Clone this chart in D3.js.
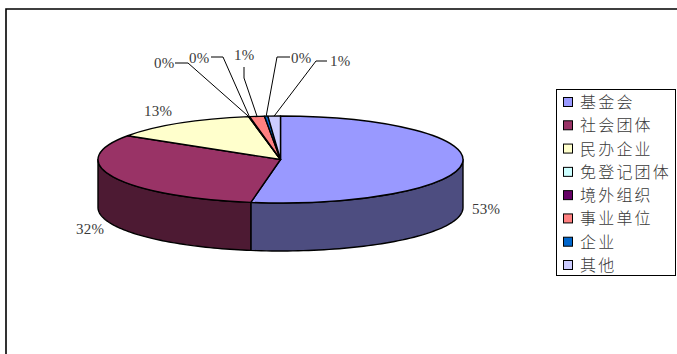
<!DOCTYPE html>
<html lang="zh">
<head>
<meta charset="utf-8">
<script src="https://cdn.jsdelivr.net/npm/d3@7/dist/d3.min.js"></script>
<style>
  html, body { margin: 0; padding: 0; background: #fff; overflow: hidden; }
  svg { display: block; }
  .pct { font-family: "Liberation Serif", serif; font-size: 15px; fill: #3a3a3a; letter-spacing: 0.3px; }
  .cat { font-family: "Noto Sans CJK SC", sans-serif; font-size: 16px; font-weight: 300; fill: #3a3a3a; letter-spacing: 2.2px; }
</style>
</head>
<body>
<svg id="chart" width="677" height="354"></svg>
<script>
// Share of organisations by type, in percent
const categories = ["基金会", "社会团体", "民办企业", "免登记团体", "境外组织", "事业单位", "企业", "其他"];
const shares = [52.6, 31.6, 13.0, 0.05, 0.05, 1.3, 0.3, 1.1];
const shareLabels = ["53%", "32%", "13%", "0%", "0%", "1%", "0%", "1%"];
const topColors = ["#9999FF", "#993366", "#FFFFCC", "#CCFFFF", "#660066", "#FF8080", "#0066CC", "#CCCCFF"];

// Label anchor and leader elbow per slice; slices without an elbow have no leader
const labelLayout = [
  { x: 472, y: 214 },
  { x: 76, y: 234 },
  { x: 144, y: 116 },
  { x: 154, y: 68, elbow: [[175, 63], [188, 63]] },
  { x: 189, y: 63, elbow: [[211, 57], [223, 57]] },
  { x: 234, y: 60, elbow: [[244, 67], [244, 78]] },
  { x: 291, y: 63, elbow: [[290, 57], [277, 57]] },
  { x: 330, y: 66, elbow: [[327, 61], [316, 61]] }
];

const W = 677, H = 354;
const cx = 280.5, cy = 159.5, rx = 182.5, ry = 43.5, depth = 48;

const svg = d3.select("#chart");

// Outer chart frame, open on the right and bottom
const frame = d3.path();
frame.moveTo(6, H);
frame.lineTo(6, 9);
frame.lineTo(W, 9);
svg.append("path").attr("d", frame.toString())
  .attr("fill", "none").attr("stroke", "#000").attr("stroke-width", 1.6);

const pie = d3.pie().sort(null).value(d => d);
const slices = pie(shares);

// Maps slice angles onto the tilted rim of the pie
const rimX = d3.scaleLinear().domain([-1, 1]).range([cx - rx, cx + rx]);
const rimY = d3.scaleLinear().domain([-1, 1]).range([cy - ry, cy + ry]);
const rimPoint = a => [rimX(Math.sin(a)), rimY(-Math.cos(a))];

// Side walls: only the part of the rim facing the viewer is visible
const wallLine = d3.line();
const front0 = Math.PI / 2, front1 = Math.PI * 1.5;
const walls = svg.append("g");
slices.forEach((s, i) => {
  const a0 = Math.max(s.startAngle, front0), a1 = Math.min(s.endAngle, front1);
  if (a1 <= a0) return;
  const rim = d3.range(0, 61).map(k => rimPoint(a0 + (a1 - a0) * k / 60));
  const lower = rim.map(p => [p[0], p[1] + depth]).reverse();
  walls.append("path")
    .attr("d", wallLine(rim.concat(lower)) + "Z")
    .attr("fill", d3.interpolateRgb(topColors[i], "#000")(0.5))
    .attr("stroke", "#000").attr("stroke-width", 1.4).attr("stroke-linejoin", "round");
});

// Top face: a circular arc squashed into the ellipse, keeping even stroke width
const arc = d3.arc().innerRadius(0).outerRadius(rx);
svg.append("g")
  .attr("transform", `translate(${cx},${cy}) scale(1,${ry / rx})`)
  .selectAll("path").data(slices).join("path")
  .attr("d", arc)
  .attr("fill", (d, i) => topColors[i])
  .attr("stroke", "#000").attr("stroke-width", 1.4)
  .attr("stroke-linejoin", "round")
  .attr("vector-effect", "non-scaling-stroke");

// Leader lines from the rim out to the small-slice labels
const leader = d3.line();
svg.append("g").selectAll("path")
  .data(slices.filter((s, i) => labelLayout[i].elbow))
  .join("path")
  .attr("d", s => {
    const mid = (s.startAngle + s.endAngle) / 2;
    return leader(labelLayout[s.index].elbow.concat([rimPoint(mid)]));
  })
  .attr("fill", "none").attr("stroke", "#000").attr("stroke-width", 1);

// Percentage labels
svg.append("g").selectAll("text").data(shareLabels).join("text")
  .attr("class", "pct")
  .attr("x", (d, i) => labelLayout[i].x)
  .attr("y", (d, i) => labelLayout[i].y)
  .text(d => d);

// Legend
const legendY = d3.scalePoint().domain(categories).range([102, 265]);
svg.append("rect")
  .attr("x", 556.5).attr("y", 89.5).attr("width", 119).attr("height", 186)
  .attr("fill", "#fff").attr("stroke", "#000").attr("stroke-width", 1);
const rows = svg.append("g").selectAll("g").data(categories).join("g")
  .attr("transform", d => `translate(0,${legendY(d)})`);
rows.append("rect")
  .attr("x", 563.5).attr("y", -4.5).attr("width", 9).attr("height", 9)
  .attr("fill", (d, i) => topColors[i])
  .attr("stroke", "#000").attr("stroke-width", 1);
rows.append("text")
  .attr("class", "cat")
  .attr("x", 580).attr("y", 6)
  .text(d => d);
</script>
</body>
</html>
